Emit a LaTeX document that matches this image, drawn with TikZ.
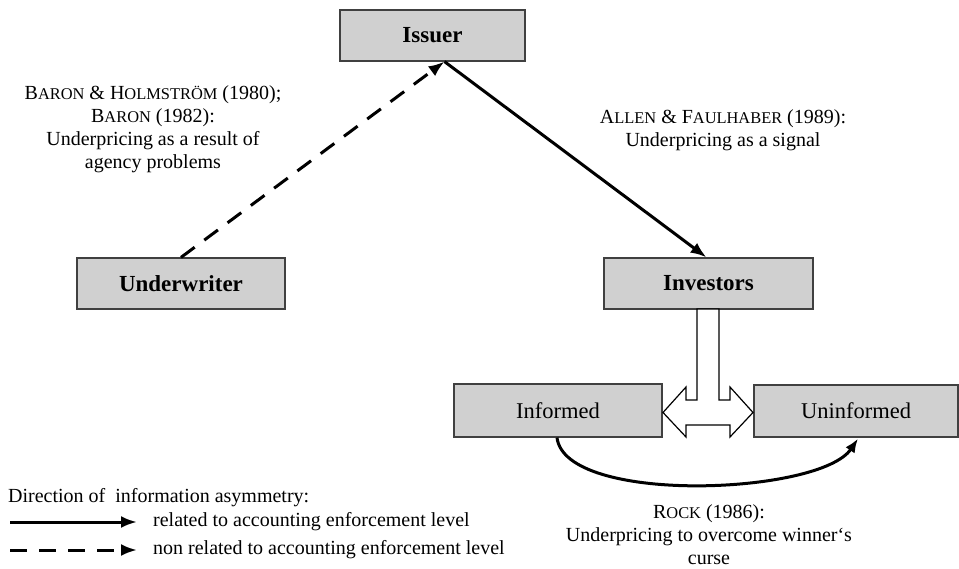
\documentclass[tikz,border=0pt]{standalone}
\usepackage{fontspec}
\setmainfont{Liberation Serif}
\usetikzlibrary{arrows.meta}
\newcommand\fsc[1]{{\fontsize{16.4}{16.4}\selectfont #1}}
\definecolor{boxfill}{HTML}{D0D0D0}
\definecolor{boxline}{HTML}{404040}
\tikzset{
  box/.style={draw=boxline, line width=1.2pt, fill=boxfill, inner sep=0pt,
    font=\fontsize{22.5}{22.5}\selectfont},
  boldbox/.style={box, font=\fontsize{23}{23}\selectfont\bfseries},
  lbl/.style={align=center, inner sep=0pt, font=\fontsize{20}{23}\selectfont},
  legtext/.style={anchor=west, inner sep=0pt, font=\fontsize{20}{23}\selectfont},
  infoarrow/.style={line width=3pt, -{Latex[length=16pt,width=12pt]}},
  dasharrow/.style={infoarrow, dash pattern=on 17pt off 12pt},
}
\begin{document}
\begin{tikzpicture}[x=1pt,y=-1pt]
\useasboundingbox (0,0) rectangle (959,568);
\fill[white] (0,0) rectangle (959,568);

% boxes
\node[boldbox, minimum width=185pt, minimum height=51pt] (issuer) at (432.5,35.5) {Issuer};
\node[boldbox, minimum width=208pt, minimum height=51pt] (under) at (181,283.5) {Underwriter};
\node[boldbox, minimum width=209pt, minimum height=51pt] (invest) at (708.5,283.5) {Investors};
\node[box, minimum width=208pt, minimum height=53pt] (informed) at (558,410.5) {Informed};
\node[box, minimum width=204pt, minimum height=52pt] (uninf) at (856,411) {Uninformed};

% arrows
\coordinate (ispt) at ([xshift=12pt]issuer.south);
\draw[dasharrow] (under.north) -- (ispt);
\draw[infoarrow] (ispt) -- ([xshift=-2pt]invest.north);
\draw[line width=3pt, -{Latex[length=14pt,width=11pt]}]
  ([xshift=-1pt]informed.south) .. controls (565,505) and (820,495) .. ([xshift=2pt,yshift=-1pt]uninf.south);

% T-shaped block arrow
\draw[line width=1.2pt, fill=white, line join=miter]
  (697,309) -- (719,309) -- (719,400) -- (730,400) -- (730,387) -- (753,412.5)
  -- (730,437) -- (730,425) -- (686,425) -- (686,437) -- (663,412.5)
  -- (686,387) -- (686,400) -- (697,400) -- cycle;

% labels
\node[lbl] (lbaron) at (153,129) {B\fsc{ARON} \& H\fsc{OLMSTRÖM} (1980);\\B\fsc{ARON} (1982):\\Underpricing as a result of\\agency problems};
\node[lbl] (lallen) at (723,130.5) {A\fsc{LLEN} \& F\fsc{AULHABER} (1989):\\Underpricing as a signal};
\node[lbl] (lrock) at (709,535) {R\fsc{OCK} (1986):\\Underpricing to overcome winner‘s\\curse};

% legend
\node[legtext] (legtitle) at (8,498) {Direction of\ \ information asymmetry:};
\coordinate (s1) at (10,522);
\coordinate (e1) at (137,522);
\coordinate (s2) at (10,550);
\coordinate (e2) at (137,550);
\draw[infoarrow] (s1) -- (e1);
\draw[dasharrow] (s2) -- (e2);
\node[legtext] (leg1) at (153,522) {related to accounting enforcement level};
\node[legtext] (leg2) at (153,550) {non related to accounting enforcement level};
\end{tikzpicture}
\end{document}
